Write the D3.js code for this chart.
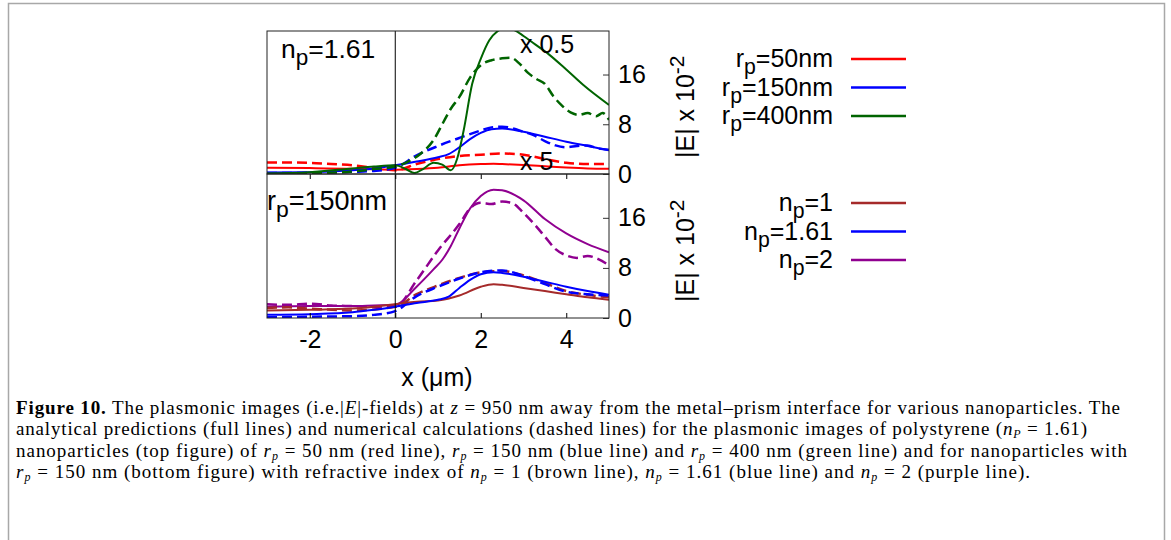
<!DOCTYPE html>
<style>
  body { margin: 0; background: white; }
  svg { display: block; font-family: "Liberation Sans", Arial, sans-serif; }
  .cap { font-family: "Liberation Serif", "Times New Roman", Times, serif; font-size: 19px; }
</style>
<body>
</body>
<script src="https://cdn.jsdelivr.net/npm/d3@7"></script>
<script>
  const W = 1171, H = 540;
  const l = 267, r = 609;
  const top1 = 31, mid = 174, bot2 = 318;

  // x positions (um) and |E| x 10^-2 values
  const xRedSolid = [-3, -2, -1, -0.5, 0, 0.5, 1, 1.5, 2, 2.3, 2.5, 3, 3.5, 4, 4.5, 5];
  const redSolid  = [1.0, 0.95, 0.85, 0.75, 0.7, 0.8, 1.0, 1.4, 1.6, 1.65, 1.6, 1.45, 1.25, 1.05, 0.9, 0.85];
  const xRedDash  = [-3, -2.5, -2, -1.5, -1, -0.5, 0, 0.5, 1, 1.5, 2, 2.5, 3, 3.5, 4, 4.5, 5];
  const redDash   = [1.85, 1.85, 1.8, 1.6, 1.4, 1.0, 0.6, 1.6, 2.4, 2.9, 3.1, 3.3, 3.1, 2.4, 1.8, 1.6, 1.6];

  const xBlueSolid = [-3, -2, -1, -0.5, 0, 0.5, 1, 1.25, 1.5, 1.75, 2, 2.25, 2.5, 3, 3.5, 4, 4.5, 5];
  const blueSolid  = [0.25, 0.3, 0.6, 0.9, 1.4, 2.0, 2.7, 3.2, 4.3, 5.6, 6.6, 7.2, 7.3, 6.8, 6.0, 5.2, 4.5, 3.8];
  const xBlueDash  = [-3, -2, -1, -0.5, 0, 0.5, 1, 1.5, 2, 2.25, 2.5, 3, 3.25, 3.5, 3.75, 4, 4.25, 4.5, 4.75, 5];
  const blueDash   = [0.15, 0.2, 0.35, 0.5, 1.0, 3.0, 4.5, 5.8, 7.0, 7.5, 7.6, 6.8, 6.2, 5.3, 4.6, 4.3, 4.5, 4.6, 4.1, 3.9];

  const xGreenSolid = [-3, -2, -1, -0.5, 0, 0.25, 0.45, 0.65, 0.9, 1.1, 1.3, 1.45, 1.6, 1.8, 2.0, 2.2, 2.4, 2.6, 2.8, 3.0, 3.22, 3.6, 4, 4.4, 5];
  const greenSolid  = [0.1, 0.3, 0.9, 1.2, 1.4, 0.8, 0.15, 0.8, 1.8, 1.5, 0.6, 2.5, 7, 14.5, 18.5, 21.5, 23.0, 23.5, 23.1, 22.2, 21.1, 19.2, 16.8, 14.3, 11.1];
  const xGreenDash  = [-3, -2, -1, -0.5, 0, 0.3, 0.6, 0.9, 1.1, 1.3, 1.5, 1.75, 2.0, 2.25, 2.5, 2.7, 2.9, 3.1, 3.3, 3.5, 3.7, 3.9, 4.1, 4.3, 4.5, 4.7, 4.85, 5];
  const greenDash   = [0.0, 0.1, 0.4, 0.8, 1.2, 2.0, 3.3, 5.5, 8.0, 10.5, 12.4, 15.5, 17.5, 18.3, 18.6, 18.7, 17.8, 16.3, 15.3, 14.5, 12.5, 11.0, 9.9, 9.5, 9.8, 9.3, 9.8, 8.7];

  const xPurpSolid = [-3, -2, -1, -0.5, 0, 0.5, 0.9, 1.1, 1.3, 1.5, 1.75, 2, 2.3, 2.5, 3, 3.5, 4, 4.5, 5];
  const purpSolid  = [1.8, 1.9, 1.9, 2.0, 2.1, 5.0, 7.8, 9.3, 11.5, 14.3, 17.5, 19.5, 20.5, 20.4, 18.8, 15.8, 13.5, 11.8, 10.5];
  const xPurpDash  = [-3, -2.5, -2, -1.5, -1, -0.5, 0, 0.5, 1, 1.5, 1.75, 2, 2.25, 2.5, 2.75, 3, 3.25, 3.5, 3.75, 4, 4.25, 4.5, 4.75, 5];
  const purpDash   = [2.2, 2.1, 2.3, 2.0, 1.9, 1.8, 1.8, 6.0, 10.8, 15.0, 17.5, 18.4, 18.2, 18.6, 18.3, 16.8, 15.0, 13.0, 11.0, 10.0, 9.6, 9.9, 9.4, 8.4];

  const xBrownSolid = [-3, -2, -1, -0.5, 0, 0.5, 1, 1.5, 2, 2.3, 2.5, 3, 3.5, 4, 4.5, 5];
  const brownSolid  = [1.2, 1.3, 1.5, 1.8, 2.2, 2.6, 2.8, 3.6, 5.0, 5.4, 5.3, 4.8, 4.3, 3.8, 3.3, 2.9];
  const xBrownDash  = [-3, -2.5, -2, -1, 0, 0.5, 1, 1.5, 2, 2.5, 3, 3.5, 4, 4.5, 5];
  const brownDash   = [1.6, 1.7, 1.5, 1.2, 1.8, 3.8, 5.2, 6.4, 7.3, 7.5, 6.8, 5.6, 4.3, 3.7, 3.3];

  const xBlue2Solid = [-3, -2, -1, -0.5, 0, 0.5, 1, 1.25, 1.5, 1.75, 2, 2.3, 2.5, 3, 3.5, 4, 4.5, 5];
  const blue2Solid  = [0.5, 0.6, 0.9, 1.3, 1.8, 2.4, 2.9, 3.4, 4.8, 6.1, 7.0, 7.3, 7.2, 6.6, 5.8, 5.0, 4.3, 3.7];
  const xBlue2Dash  = [-3, -2, -1, -0.5, 0, 0.5, 1, 1.5, 2, 2.5, 3, 3.5, 4, 4.5, 5];
  const blue2Dash   = [0.1, 0.2, 0.3, 0.5, 1.1, 3.5, 5.0, 6.3, 7.3, 7.6, 6.7, 5.4, 4.2, 3.8, 3.6];

  const xTicks = [-2, 0, 2, 4];
  const yTicks = [0, 8, 16];
  const legendTop = [['r', 'p', '=50nm', 'red'], ['r', 'p', '=150nm', 'blue'], ['r', 'p', '=400nm', 'green']];
  const legendBot = [['n', 'p', '=1', 'brown'], ['n', 'p', '=1.61', 'blue'], ['n', 'p', '=2', 'purple']];
  const colors = {red: '#ff0000', blue: '#0000ff', green: '#006400', brown: '#a52a2a', purple: '#900090'};

  const captionLines = [
    [['Figure 10.', 'b'], [' The plasmonic images (i.e.|'], ['E', 'i'], ['|-fields) at '], ['z', 'i'], [' = 950 nm away from the metal\u2013prism interface for various nanoparticles. The']],
    [['analytical predictions (full lines) and numerical calculations (dashed lines) for the plasmonic images of polystyrene ('], ['n', 'i'], ['P', 'sub'], [' = 1.61)']],
    [['nanoparticles (top figure) of '], ['r', 'i'], ['p', 'sub'], [' = 50 nm (red line), '], ['r', 'i'], ['p', 'sub'], [' = 150 nm (blue line) and '], ['r', 'i'], ['p', 'sub'], [' = 400 nm (green line) and for nanoparticles with']],
    [['r', 'i'], ['p', 'sub'], [' = 150 nm (bottom figure) with refractive index of '], ['n', 'i'], ['p', 'sub'], [' = 1 (brown line), '], ['n', 'i'], ['p', 'sub'], [' = 1.61 (blue line) and '], ['n', 'i'], ['p', 'sub'], [' = 2 (purple line).']]
  ];
  const captionEnds = [1120, 1087, 1127, 1030];

  const svg = d3.select('body').append('svg').attr('width', W).attr('height', H);

  // page frame
  svg.append('path')
    .attr('d', `M8.5,${H + 5}V3.5H1164.5V${H + 5}`)
    .attr('fill', 'none').attr('stroke', '#a8a8a8').attr('stroke-width', 1.5);

  const x = d3.scaleLinear().domain([-3, 5]).range([l, r]);
  const yA = d3.scaleLinear().domain([0, 23]).range([mid, top1]);
  const yB = d3.scaleLinear().domain([0, 23]).range([bot2, mid]);

  const defs = svg.append('defs');
  [['clipA', top1, mid], ['clipB', mid, bot2]].forEach(([id, t, b]) => {
    defs.append('clipPath').attr('id', id)
      .append('rect').attr('x', l).attr('y', t).attr('width', r - l).attr('height', b - t);
  });

  function drawPanel(y, clip, series) {
    const g = svg.append('g').attr('clip-path', `url(#${clip})`);
    for (const [xs, ys, col, dashed] of series) {
      const line = d3.line().x(d => x(d[0])).y(d => y(d[1])).curve(d3.curveMonotoneX);
      g.append('path')
        .attr('d', line(d3.zip(xs, ys)))
        .attr('fill', 'none')
        .attr('stroke', colors[col])
        .attr('stroke-width', dashed ? 2.5 : 2)
        .attr('stroke-dasharray', dashed ? '10,5' : null);
    }
    // x = 0 line
    g.append('line').attr('x1', x(0)).attr('x2', x(0))
      .attr('y1', y.range()[1]).attr('y2', y.range()[0])
      .attr('stroke', 'black').attr('stroke-width', 1);

    // right axis, inward ticks
    const ax = svg.append('g').attr('transform', `translate(${r},0)`)
      .call(d3.axisRight(y).tickValues(yTicks).tickSize(-6).tickPadding(9).tickFormat(d3.format('d')));
    ax.select('.domain').remove();
    ax.selectAll('.tick line').attr('stroke', '#333');
    ax.selectAll('text').attr('font-size', 25).attr('fill', 'black').attr('font-family', null);
  }

  drawPanel(yA, 'clipA', [
    [xRedDash, redDash, 'red', true],
    [xRedSolid, redSolid, 'red', false],
    [xBlueDash, blueDash, 'blue', true],
    [xBlueSolid, blueSolid, 'blue', false],
    [xGreenDash, greenDash, 'green', true],
    [xGreenSolid, greenSolid, 'green', false]
  ]);
  drawPanel(yB, 'clipB', [
    [xPurpDash, purpDash, 'purple', true],
    [xPurpSolid, purpSolid, 'purple', false],
    [xBrownDash, brownDash, 'brown', true],
    [xBlue2Dash, blue2Dash, 'blue', true],
    [xBrownSolid, brownSolid, 'brown', false],
    [xBlue2Solid, blue2Solid, 'blue', false]
  ]);

  // x axis (bottom panel), inward ticks top and bottom
  const xa = svg.append('g').attr('transform', `translate(0,${bot2})`)
    .call(d3.axisBottom(x).tickValues(xTicks).tickSize(-5).tickPadding(12).tickFormat(d3.format('d')));
  xa.select('.domain').remove();
  xa.selectAll('text').attr('font-size', 25).attr('fill', 'black').attr('font-family', null)
    .text(d => d < 0 ? '-' + Math.abs(d) : d);
  svg.append('g').attr('transform', `translate(0,${mid})`)
    .call(d3.axisBottom(x).tickValues(xTicks).tickSize(5).tickFormat(''))
    .select('.domain').remove();

  // panel frames
  for (const [t, b] of [[top1, mid], [mid, bot2]]) {
    svg.append('rect').attr('x', l).attr('y', t).attr('width', r - l).attr('height', b - t)
      .attr('fill', 'none').attr('stroke', '#222').attr('stroke-width', 1);
  }

  function subText(g, xx, yy, base, sub, rest, anchor, size) {
    const t = g.append('text').attr('x', xx).attr('y', yy)
      .attr('text-anchor', anchor).attr('font-size', size);
    t.append('tspan').text(base);
    t.append('tspan').attr('dy', 7).attr('font-size', size * 0.85).text(sub);
    t.append('tspan').attr('dy', -7).text(rest);
    return t;
  }

  subText(svg, 281, 58, 'n', 'p', '=1.61', 'start', 26.5);
  subText(svg, 267, 210, 'r', 'p', '=150nm', 'start', 27);
  svg.append('text').attr('x', 520).attr('y', 53).attr('font-size', 25).text('x 0.5');
  svg.append('text').attr('x', 520).attr('y', 170).attr('font-size', 25).text('x 5');

  // y labels
  for (const yc of [158, 302]) {
    const t = svg.append('text')
      .attr('transform', `translate(694,${yc}) rotate(-90)`)
      .attr('font-size', 25);
    t.append('tspan').text('|E| x 10');
    t.append('tspan').attr('dy', -10).attr('font-size', 21).text('-2');
  }

  svg.append('text').attr('x', 437).attr('y', 386).attr('text-anchor', 'middle')
    .attr('font-size', 25).text('x (\u03bcm)');

  // legends
  function legend(items, y0) {
    items.forEach((d, i) => {
      const yy = y0 + i * 28.5;
      subText(svg, 833, yy + 8, d[0], d[1], d[2], 'end', 25);
      svg.append('line').attr('x1', 851).attr('x2', 906).attr('y1', yy).attr('y2', yy)
        .attr('stroke', colors[d[3]]).attr('stroke-width', 2.5);
    });
  }
  legend(legendTop, 59);
  legend(legendBot, 203);

  // caption
  captionLines.forEach((segs, i) => {
    const t = svg.append('text').attr('class', 'cap')
      .attr('x', 16).attr('y', 414 + i * 21.3)
      .attr('textLength', captionEnds[i] - 16).attr('lengthAdjust', 'spacing');
    let shift = 0;
    for (const [s, st] of segs) {
      const ts = t.append('tspan').text(s);
      const want = st === 'sub' ? 3 : 0;
      if (want !== shift) { ts.attr('dy', want - shift); shift = want; }
      if (st === 'b') ts.attr('font-weight', 'bold');
      if (st === 'i' || st === 'sub') ts.attr('font-style', 'italic');
      if (st === 'sub') ts.attr('font-size', 12);
    }
  });
</script>
